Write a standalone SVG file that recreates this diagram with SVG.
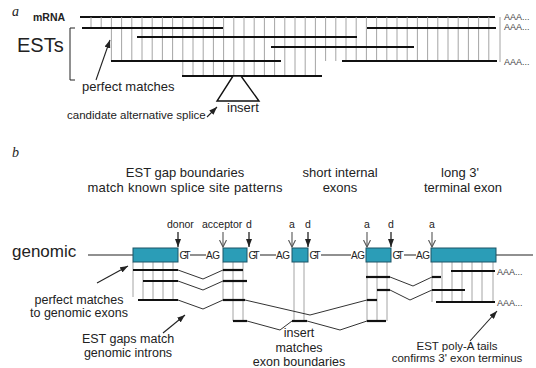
<svg xmlns="http://www.w3.org/2000/svg" width="536" height="368" viewBox="0 0 536 368">
  <style>
    text { font-family: "Liberation Sans", Arial, sans-serif; fill: #222; }
    .panel { font-family: "Liberation Serif", "Times New Roman", serif; font-style: italic; font-size: 14px; }
    .lbl { font-size: 13px; }
    .note { font-size: 12.5px; }
    .small { font-size: 11.5px; }
    .site { font-size: 10.5px; }
    .seq { font-size: 10px; }
    .polya { font-size: 9px; fill: #444; }
    .est { stroke: #111; stroke-width: 2.2; fill: none; }
    .match { stroke: #9a9a9a; stroke-width: 0.9; fill: none; }
    .intron { stroke: #333; stroke-width: 1; fill: none; }
    .gline { stroke: #222; stroke-width: 1.2; fill: none; }
    .exon { fill: #2b9db7; stroke: #1d5566; stroke-width: 1; }
    .ptr { stroke: #222; stroke-width: 1.1; fill: none; }
    .donor { stroke: #111; stroke-width: 1.2; fill: none; }
    .acc { stroke: #555; stroke-width: 1.1; fill: none; }
  </style>
  <defs>
    <marker id="head" viewBox="0 0 8 6" refX="8" refY="3" markerWidth="8" markerHeight="6" markerUnits="userSpaceOnUse" orient="auto">
      <path d="M0,0 L8,3 L0,6 z" fill="#222"/>
    </marker>
    <marker id="open" viewBox="0 0 8 8" refX="7.5" refY="4" markerWidth="8" markerHeight="8" markerUnits="userSpaceOnUse" orient="auto">
      <path d="M0.5,0.5 L7.5,4 L0.5,7.5" fill="none" stroke="#555" stroke-width="1.1"/>
    </marker>
  </defs>

  <!-- ===== Panel a: ESTs aligned to an mRNA ===== -->
  <text class="panel" x="12" y="16">a</text>

  <g id="mrna">
    <text x="33" y="21" style="font-size:10.5px;font-weight:bold">mRNA</text>
    <line class="est" x1="80" y1="17" x2="495" y2="17"/>
  </g>

  <g id="ests-label">
    <text x="17" y="52" style="font-size:20px">ESTs</text>
    <path d="M75 28 H70 V80 H75" stroke="#222" stroke-width="1" fill="none"/>
  </g>

  <g id="est-matches-a">
    <path class="match" d="M91 17V28 M101.2 17V28
      M111.4 17V61 M121.6 17V61 M131.8 17V61 M142 17V61 M152.2 17V61 M162.4 17V61 M172.6 17V61
      M182.8 17V76 M193 17V76 M203.2 17V76 M213.4 17V76 M223.6 17V76 M233.8 17V76 M244 17V76
      M254.2 17V76 M264.4 17V76 M274.6 17V76 M284.8 17V76 M295 17V76 M305.2 17V76 M315.4 17V76
      M325.6 17V61 M335.8 17V61 M346 17V61 M356.2 17V61 M366.4 17V61 M376.6 17V61 M386.8 17V61
      M397 17V61 M407.2 17V61 M417.4 17V61 M427.6 17V61 M437.8 17V61 M448 17V61 M458.2 17V61
      M468.4 17V61 M478.6 17V61 M488.8 17V61 M500 17V62"/>
  </g>

  <g id="ests-a">
    <line class="est" x1="82" y1="28" x2="223" y2="28"/>
    <line class="est" x1="367" y1="28" x2="496" y2="28"/>
    <line class="est" x1="137" y1="37" x2="357" y2="37"/>
    <line class="est" x1="271" y1="47" x2="414" y2="47"/>
    <line class="est" x1="111" y1="61" x2="281" y2="61"/>
    <line class="est" x1="342" y1="61" x2="497" y2="61"/>
    <line class="est" x1="182" y1="76" x2="322" y2="76"/>
  </g>

  <g id="polya-a">
    <text class="polya" x="504" y="20">AAA...</text>
    <text class="polya" x="504" y="30">AAA...</text>
    <text class="polya" x="504" y="65">AAA...</text>
  </g>

  <g id="insert-a">
    <polygon points="233,76 241,76 259,101 217,101" fill="#fff" stroke="#111" stroke-width="1.4"/>
    <text class="lbl" x="227" y="112">insert</text>
  </g>

  <g id="note-perfect-a">
    <text class="lbl" x="82" y="91">perfect matches</text>
  </g>
  <g id="note-splice-a">
    <text class="small" x="67" y="119">candidate alternative splice</text>
  </g>

  <!-- ===== Panel b: ESTs aligned to genomic sequence ===== -->
  <text class="panel" x="12" y="157">b</text>

  <g id="headings">
    <text class="lbl" x="185" y="177" text-anchor="middle">EST gap boundaries</text>
    <text class="lbl" x="185" y="192" text-anchor="middle" textLength="195">match known splice site patterns</text>
    <text class="lbl" x="340" y="177" text-anchor="middle">short internal</text>
    <text class="lbl" x="340" y="192" text-anchor="middle">exons</text>
    <text class="lbl" x="460" y="177" text-anchor="middle">long 3'</text>
    <text class="lbl" x="463" y="192" text-anchor="middle">terminal exon</text>
  </g>

  <g id="genomic">
    <text x="12" y="257" style="font-size:17px">genomic</text>
    <path class="gline" d="M88 255H133 M190 255H206 M260 255H276 M321 255H351 M404 255H416 M496 255H533"/>
    <text class="seq" x="179.5" y="259" textLength="11">GT</text>
    <text class="seq" x="206" y="259" textLength="14">AG</text>
    <text class="seq" x="248.5" y="259" textLength="11">GT</text>
    <text class="seq" x="276" y="259" textLength="14">AG</text>
    <text class="seq" x="309.5" y="259" textLength="11">GT</text>
    <text class="seq" x="351" y="259" textLength="14">AG</text>
    <text class="seq" x="392.5" y="259" textLength="11">GT</text>
    <text class="seq" x="416" y="259" textLength="14">AG</text>
  </g>

  <g id="est-matches-b">
    <path class="match" d="M133 262V297 M143 262V300 M153 262V300 M163 262V300 M173 262V300
      M223 262V300 M233 262V321 M243 262V321
      M294 262V321 M304 262V321
      M367 262V321 M377 262V321 M387 262V321
      M432 262V302 M442 262V302 M452 262V302 M462 262V302 M472 262V302 M482 262V302 M493 262V302"/>
  </g>

  <g id="exon1"><rect class="exon" x="133" y="248" width="45" height="14"/></g>
  <g id="exon2"><rect class="exon" x="223" y="248" width="24" height="14"/></g>
  <g id="exon3"><rect class="exon" x="292" y="248" width="16" height="14"/></g>
  <g id="exon4"><rect class="exon" x="366" y="248" width="25" height="14"/></g>
  <g id="exon5"><rect class="exon" x="431" y="248" width="65" height="14"/></g>

  <g id="sites">
    <text class="site" x="167" y="228">donor</text>
    <text class="site" x="202" y="228">acceptor</text>
    <text class="site" x="246" y="228">d</text>
    <text class="site" x="292" y="228" text-anchor="middle">a</text>
    <text class="site" x="308" y="228" text-anchor="middle">d</text>
    <text class="site" x="367" y="228" text-anchor="middle">a</text>
    <text class="site" x="391" y="228" text-anchor="middle">d</text>
    <text class="site" x="432" y="228" text-anchor="middle">a</text>
  </g>

  <g id="ests-b">
    <!-- row 1 -->
    <line class="est" x1="133" y1="270" x2="178" y2="270"/>
    <line class="est" x1="223" y1="270" x2="243" y2="270"/>
    <!-- row 2 -->
    <line class="est" x1="143" y1="281" x2="178" y2="281"/>
    <line class="est" x1="223" y1="281" x2="247" y2="281"/>
    <!-- row 3 -->
    <line class="est" x1="138" y1="300" x2="178" y2="300"/>
    <line class="est" x1="223" y1="300" x2="245" y2="300"/>
    <line class="est" x1="367" y1="300" x2="377" y2="300"/>
    <!-- row 4 -->
    <line class="est" x1="233" y1="321" x2="247" y2="321"/>
    <line class="est" x1="292" y1="321" x2="307" y2="321"/>
    <line class="est" x1="367" y1="321" x2="386" y2="321"/>
    <!-- right-hand rows -->
    <line class="est" x1="366" y1="277" x2="390" y2="277"/>
    <line class="est" x1="432" y1="277" x2="441" y2="277"/>
    <line class="est" x1="377" y1="290" x2="390" y2="290"/>
    <line class="est" x1="432" y1="290" x2="465" y2="290"/>
    <line class="est" x1="451" y1="271" x2="495" y2="271"/>
    <line class="est" x1="436" y1="302" x2="495" y2="302"/>
  </g>

  <g id="polya-b">
    <text class="polya" x="497" y="275">AAA...</text>
    <text class="polya" x="497" y="306">AAA...</text>
  </g>

  <g id="note-perfect-b">
    <text class="note" x="79" y="304" text-anchor="middle">perfect matches</text>
    <text class="note" x="79" y="317" text-anchor="middle">to genomic exons</text>
  </g>
  <g id="note-gaps">
    <text class="note" x="128" y="343" text-anchor="middle">EST gaps match</text>
    <text class="note" x="128" y="357" text-anchor="middle">genomic introns</text>
  </g>
  <g id="note-insert">
    <text class="note" x="299" y="337" text-anchor="middle">insert</text>
    <text class="note" x="299" y="352" text-anchor="middle">matches</text>
    <text class="note" x="299" y="366" text-anchor="middle">exon boundaries</text>
  </g>
  <g id="note-polya">
    <text class="small" x="457" y="350" text-anchor="middle">EST poly-A tails</text>
    <text class="small" x="457" y="362" text-anchor="middle">confirms 3' exon terminus</text>
  </g>

  <!-- connectors: EST gaps (introns), site arrows and pointers -->
  <g id="connectors">
    <path class="intron" d="M178 270 L203 279 L223 270"/>
    <path class="intron" d="M178 281 L203 290 L223 281"/>
    <path class="intron" d="M178 300 L203 309 L223 300"/>
    <path class="intron" d="M245 300 L310 315 L367 300"/>
    <path class="intron" d="M247 321 L280 330 L292 321"/>
    <path class="intron" d="M307 321 L340 330 L367 321"/>
    <path class="intron" d="M390 277 L413 286 L432 277"/>
    <path class="intron" d="M390 290 L410 300 L432 290"/>

    <line class="donor" x1="178" y1="232" x2="178" y2="247" marker-end="url(#head)"/>
    <line class="acc" x1="223" y1="232" x2="223" y2="247" marker-end="url(#open)"/>
    <line class="donor" x1="249" y1="232" x2="249" y2="247" marker-end="url(#head)"/>
    <line class="acc" x1="292" y1="232" x2="292" y2="247" marker-end="url(#open)"/>
    <line class="donor" x1="308" y1="232" x2="308" y2="247" marker-end="url(#head)"/>
    <line class="acc" x1="367" y1="232" x2="367" y2="247" marker-end="url(#open)"/>
    <line class="donor" x1="391" y1="232" x2="391" y2="247" marker-end="url(#head)"/>
    <line class="acc" x1="432" y1="232" x2="432" y2="247" marker-end="url(#open)"/>

    <line class="ptr" x1="96" y1="80" x2="110" y2="40" marker-end="url(#head)"/>
    <line class="ptr" x1="207" y1="117" x2="217" y2="107" marker-end="url(#head)"/>
    <line class="ptr" x1="97" y1="283" x2="128" y2="266" marker-end="url(#head)"/>
    <line class="ptr" x1="163" y1="333" x2="185" y2="315" marker-end="url(#head)"/>
    <line class="ptr" x1="470" y1="341" x2="497" y2="311" marker-end="url(#head)"/>
  </g>
</svg>
